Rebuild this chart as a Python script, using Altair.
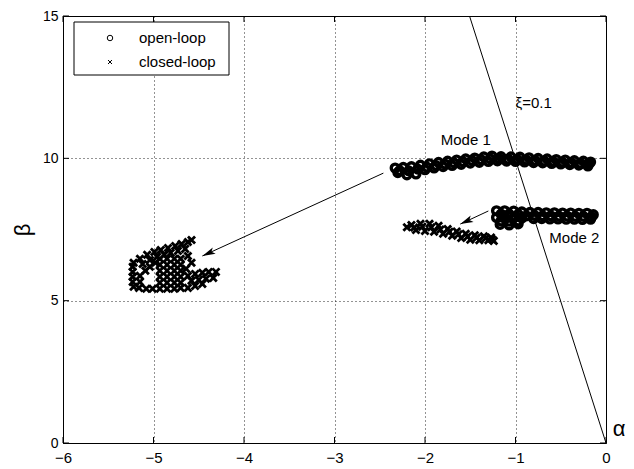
import altair as alt
import pandas as pd

FONT = "Liberation Sans"

# ---------------- data ----------------
SERIES = ["open-loop", "closed-loop"]

# Mode 1, open-loop eigenvalues (circles)
OL1_ALPHA = [-2.33, -2.24, -2.15, -2.05, -1.95, -1.85, -1.75, -1.65, -1.55, -1.45, -1.35, -1.26,
             -1.16, -1.05, -0.95, -0.85, -0.75, -0.65, -0.55, -0.45, -0.35, -0.25, -0.17,
             -2.30, -2.20, -2.10, -2.00, -1.90, -1.80, -1.70, -1.60, -1.50, -1.40, -1.30, -1.20,
             -1.10, -1.00, -0.90, -0.80, -0.70, -0.60, -0.50, -0.40, -0.30, -0.20,
             -2.28, -2.18, -2.08, -1.98, -1.88, -1.78, -1.68, -1.58, -1.48, -1.38, -1.28,
             -1.18, -1.08, -0.98, -0.88, -0.78, -0.68, -0.58, -0.48, -0.38, -0.28, -0.19]
OL1_BETA = [9.66, 9.68, 9.71, 9.76, 9.81, 9.86, 9.90, 9.94, 9.98, 10.01, 10.05, 10.08,
            10.06, 10.05, 10.04, 10.02, 10.00, 9.98, 9.96, 9.94, 9.92, 9.90, 9.87,
            9.50, 9.42, 9.45, 9.60, 9.66, 9.71, 9.75, 9.79, 9.83, 9.86, 9.89, 9.91,
            9.90, 9.89, 9.87, 9.85, 9.84, 9.82, 9.80, 9.78, 9.76, 9.73,
            9.57, 9.56, 9.62, 9.69, 9.75, 9.80, 9.84, 9.88, 9.92, 9.95, 9.98,
            9.98, 9.97, 9.96, 9.94, 9.92, 9.90, 9.88, 9.86, 9.84, 9.82, 9.80]

# Mode 2, open-loop eigenvalues (circles)
OL2_ALPHA = [-1.21, -1.12, -1.02, -0.93, -1.21, -1.12, -1.02, -0.93, -1.17, -1.07, -0.97,
             -1.16, -1.07, -0.97, -1.16, -1.07, -0.97,
             -0.84, -0.75, -0.66, -0.57, -0.48, -0.39, -0.30, -0.21, -0.14,
             -0.80, -0.71, -0.62, -0.53, -0.44, -0.35, -0.26, -0.17,
             -0.88, -0.79, -0.70, -0.61, -0.52, -0.43, -0.34, -0.25, -0.16]
OL2_BETA = [8.16, 8.16, 8.15, 8.12, 7.92, 7.92, 7.92, 7.90, 7.68, 7.66, 7.70,
            8.04, 8.04, 8.03, 7.80, 7.79, 7.80,
            8.10, 8.10, 8.09, 8.09, 8.08, 8.08, 8.07, 8.07, 8.02,
            7.88, 7.88, 7.87, 7.87, 7.86, 7.86, 7.85, 7.86,
            7.98, 7.99, 7.98, 7.98, 7.97, 7.97, 7.96, 7.96, 7.94]

# Mode 1, closed-loop eigenvalues (crosses)
CL1_ALPHA = [-5.22, -5.15, -5.07, -4.99, -4.92, -4.84, -4.76, -4.69, -4.62, -4.58,
             -5.12, -5.04, -4.96, -4.88, -4.81, -4.73, -4.65,
             -5.23, -5.23, -5.23, -5.23, -5.22,
             -5.16, -5.08, -5.01, -4.93, -4.85, -4.77, -4.70, -4.62, -4.54, -4.46,
             -5.15, -5.09, -5.04, -4.98, -5.15,
             -4.93, -4.85, -4.77, -4.70, -4.93, -4.85, -4.77, -4.70, -4.93, -4.85, -4.77, -4.70,
             -4.93, -4.85, -4.77, -4.70, -4.93, -4.85, -4.77, -4.70,
             -4.62, -4.58, -4.64,
             -4.62, -4.54, -4.46, -4.39, -4.31, -4.58, -4.50, -4.42, -4.34]
CL1_BETA = [6.33, 6.47, 6.61, 6.71, 6.78, 6.85, 6.92, 6.99, 7.06, 7.13,
            6.29, 6.43, 6.54, 6.61, 6.68, 6.75, 6.82,
            6.19, 6.01, 5.84, 5.66, 5.49,
            5.45, 5.42, 5.42, 5.42, 5.42, 5.42, 5.45, 5.45, 5.52, 5.59,
            5.87, 6.05, 6.19, 6.33, 5.66,
            6.47, 6.47, 6.47, 6.47, 6.26, 6.26, 6.26, 6.26, 6.05, 6.05, 6.05, 6.05,
            5.84, 5.84, 5.84, 5.84, 5.63, 5.63, 5.63, 5.63,
            6.57, 6.33, 6.12,
            5.87, 5.94, 5.98, 6.01, 6.01, 5.70, 5.73, 5.77, 5.80]

# Mode 2, closed-loop eigenvalues (crosses)
CL2_ALPHA = [-2.15, -2.05, -1.95, -1.85, -1.75, -1.65, -1.55, -1.45, -1.35, -1.27,
             -2.10, -2.00, -1.90, -1.80, -1.70, -1.60, -1.50, -1.40, -1.30, -1.24,
             -2.20, -2.12, -2.03, -1.93, -1.83, -1.73, -1.63, -1.53, -1.43, -1.33, -1.26]
CL2_BETA = [7.66, 7.70, 7.70, 7.63, 7.52, 7.43, 7.35, 7.30, 7.26, 7.22,
            7.48, 7.45, 7.42, 7.35, 7.28, 7.20, 7.14, 7.12, 7.12, 7.10,
            7.58, 7.57, 7.60, 7.58, 7.50, 7.42, 7.33, 7.25, 7.21, 7.19, 7.16]

# damping line xi = 0.1
DAMP_ALPHA = [0.0, -1.508]
DAMP_BETA = [0.0, 15.0]

# arrows (start, tip)
ARROW_ID = ["m1", "m1", "m2", "m2"]
ARROW_ALPHA = [-2.46, -4.46, -1.30, -1.61]
ARROW_BETA = [9.48, 6.57, 8.15, 7.69]
ARROW_TIP_ALPHA = [-4.46, -1.61]
ARROW_TIP_BETA = [6.57, 7.69]

# annotations
ANNOT_TEXT = ["Mode 1", "Mode 2", "ξ=0.1"]
ANNOT_ALPHA = [-1.55, -0.35, -0.80]
ANNOT_BETA = [10.65, 7.19, 11.96]

X_TICKS = [-6, -5, -4, -3, -2, -1, 0]
Y_TICKS = [0, 5, 10, 15]

# ---------------- tables ----------------
pts_ol = pd.concat([
    pd.DataFrame({"alpha": OL1_ALPHA, "beta": OL1_BETA}),
    pd.DataFrame({"alpha": OL2_ALPHA, "beta": OL2_BETA}),
], ignore_index=True)
pts_cl = pd.concat([
    pd.DataFrame({"alpha": CL1_ALPHA, "beta": CL1_BETA}),
    pd.DataFrame({"alpha": CL2_ALPHA, "beta": CL2_BETA}),
], ignore_index=True)

damp = pd.DataFrame({"alpha": DAMP_ALPHA, "beta": DAMP_BETA})
arrows = pd.DataFrame({"id": ARROW_ID, "alpha": ARROW_ALPHA, "beta": ARROW_BETA})
tips = pd.DataFrame({"alpha": ARROW_TIP_ALPHA, "beta": ARROW_TIP_BETA})
annot = pd.DataFrame({"text": ANNOT_TEXT, "alpha": ANNOT_ALPHA, "beta": ANNOT_BETA})

xticks_df = pd.DataFrame({"t": X_TICKS})
yticks_df = pd.DataFrame({"t": Y_TICKS})

XPATH = "M-1,-1L1,1M-1,1L1,-1"
ARROWHEAD = "M0,0L0.7,2.6L0,2.0L-0.7,2.6Z"

W, H = 543, 427

xscale = alt.Scale(domain=[-6, 0], nice=False, zero=False)
yscale = alt.Scale(domain=[0, 15], nice=False, zero=False)

xaxis = alt.Axis(values=X_TICKS, title=None, grid=True, gridDash=[1, 3], gridColor="#000",
                 gridOpacity=0.85, gridWidth=1, ticks=False, domainColor="black",
                 labelFont=FONT, labelFontSize=15, labelColor="black", labelPadding=7,
                 labelFlush=False)
yaxis = alt.Axis(values=Y_TICKS, title="β", grid=True, gridDash=[1, 3], gridColor="#000",
                 gridOpacity=0.85, gridWidth=1, ticks=False, domainColor="black",
                 labelFont=FONT, labelFontSize=14, labelColor="black", labelPadding=5,
                 labelFlush=False, titleFont=FONT, titleFontSize=22, titleFontWeight="normal",
                 titleColor="black", titlePadding=8)

X = lambda: alt.X("alpha:Q", scale=xscale, axis=xaxis)
Y = lambda: alt.Y("beta:Q", scale=yscale, axis=yaxis)

ol_points = alt.Chart(pts_ol).mark_point(shape="circle", size=60, filled=False, strokeWidth=3.4,
                                         opacity=1, color="black").encode(x=X(), y=Y())
cl_points = alt.Chart(pts_cl).mark_point(shape=XPATH, size=50, filled=False, strokeWidth=2.8,
                                         opacity=1, color="black").encode(x=X(), y=Y())

damp_line = alt.Chart(damp).mark_line(color="black", strokeWidth=1).encode(x=X(), y=Y())

arrow_lines = alt.Chart(arrows).mark_line(color="black", strokeWidth=1).encode(
    x=X(), y=Y(), detail="id:N")
arrow_heads = alt.Chart(tips).mark_point(shape=ARROWHEAD, size=100, angle=245.5, filled=True,
                                         color="black", opacity=1).encode(x=X(), y=Y())

texts = alt.Chart(annot).mark_text(font=FONT, fontSize=15, color="black",
                                   align="center", baseline="middle").encode(
    x=X(), y=Y(), text="text:N")

alpha_lbl = alt.Chart(pd.DataFrame({"text": ["α"], "alpha": [0.145], "beta": [0.49]})).mark_text(
    font=FONT, fontSize=22, color="black", align="center", baseline="middle").encode(
    x=X(), y=Y(), text="text:N")

# inward ticks like the original frame
xt_bottom = alt.Chart(xticks_df).mark_rule(color="black").encode(
    x=alt.X("t:Q", scale=xscale, axis=xaxis), y=alt.value(H), y2=alt.value(H - 6))
xt_top = alt.Chart(xticks_df).mark_rule(color="black").encode(
    x=alt.X("t:Q", scale=xscale, axis=xaxis), y=alt.value(0), y2=alt.value(6))
yt_left = alt.Chart(yticks_df).mark_rule(color="black").encode(
    y=alt.Y("t:Q", scale=yscale, axis=yaxis), x=alt.value(0), x2=alt.value(6))
yt_right = alt.Chart(yticks_df).mark_rule(color="black").encode(
    y=alt.Y("t:Q", scale=yscale, axis=yaxis), x=alt.value(W), x2=alt.value(W - 6))

# legend (drawn box at the upper left of the plot)
leg_df0 = pd.DataFrame({"label": [SERIES[0]]})
leg_df1 = pd.DataFrame({"label": [SERIES[1]]})
leg_box = alt.Chart(leg_df0).mark_rect(fill="white", stroke="black", strokeWidth=1).encode(
    x=alt.value(11), x2=alt.value(166), y=alt.value(6), y2=alt.value(59))
leg_sym0 = alt.Chart(leg_df0).mark_point(shape="circle", size=30, filled=False, strokeWidth=1,
                                         color="black", opacity=1).encode(
    x=alt.value(47), y=alt.value(22))
leg_sym1 = alt.Chart(leg_df1).mark_point(shape=XPATH, size=16, filled=False, strokeWidth=1,
                                         color="black", opacity=1).encode(
    x=alt.value(47), y=alt.value(46))
leg_txt0 = alt.Chart(leg_df0).mark_text(font=FONT, fontSize=15, color="black", align="left",
                                        baseline="middle").encode(
    x=alt.value(76), y=alt.value(22), text="label:N")
leg_txt1 = alt.Chart(leg_df1).mark_text(font=FONT, fontSize=15, color="black", align="left",
                                        baseline="middle").encode(
    x=alt.value(76), y=alt.value(46), text="label:N")

chart = alt.layer(
    xt_bottom, xt_top, yt_left, yt_right,
    damp_line, arrow_lines, arrow_heads, ol_points, cl_points, texts, alpha_lbl,
    leg_box, leg_sym0, leg_sym1, leg_txt0, leg_txt1,
).properties(
    width=W, height=H,
    autosize=alt.AutoSizeParams(type="none"),
    padding={"left": 55, "top": 8, "right": 20, "bottom": 22},
    background="white",
).configure_view(stroke="black", strokeWidth=1)

chart.save("out.html", embed_options={"renderer": "svg", "actions": False})
